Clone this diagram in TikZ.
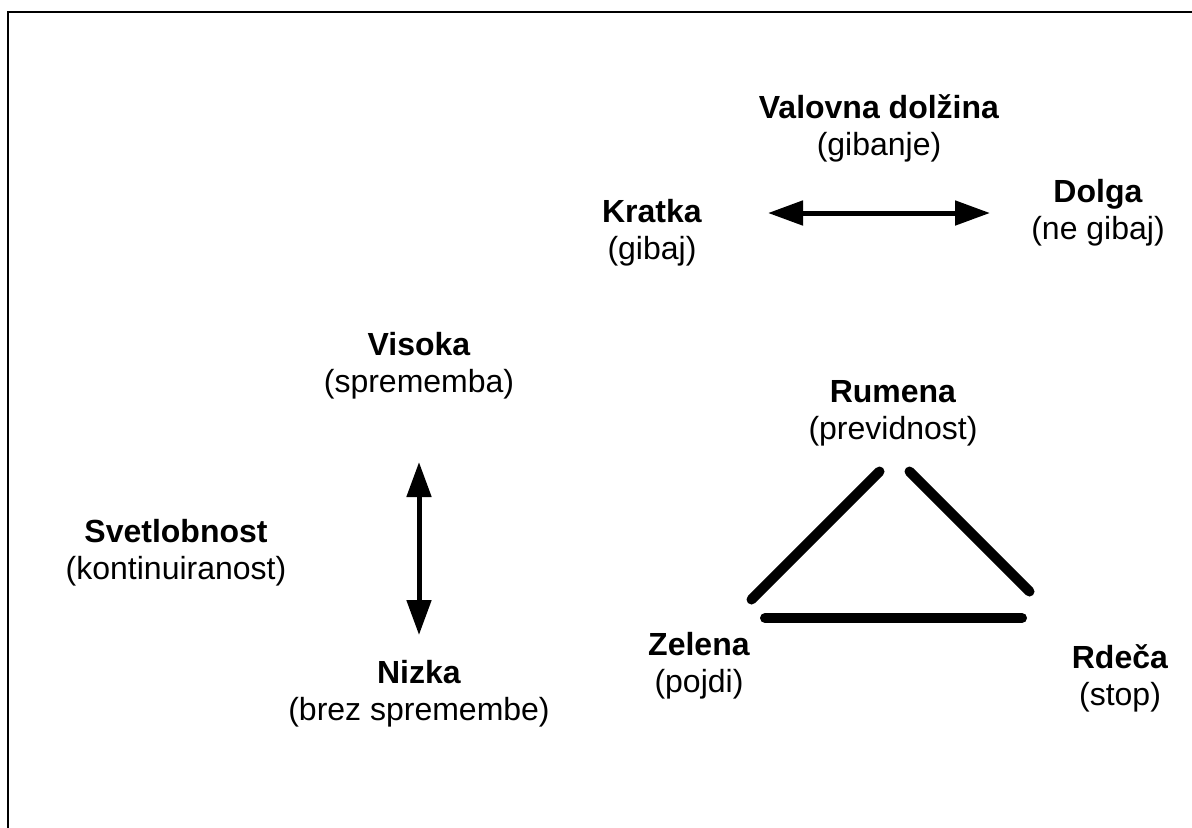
\documentclass[tikz,border=0pt]{standalone}
\usepackage{fontspec}
\setmainfont{Liberation Sans}
\usetikzlibrary{arrows.meta}
\begin{document}
\begin{tikzpicture}[x=0.5pt,y=-0.5pt,
  lbl/.style={align=center,inner sep=0pt,font=\fontsize{16}{18.5}\selectfont},
  dblarrow/.style={line width=2.5pt,{Triangle[length=17.5pt,width=12pt]}-{Triangle[length=17.5pt,width=12pt]}},
  bar/.style={line width=5pt,line cap=round},
  frame/.style={line width=1pt}]
\useasboundingbox (0,0) rectangle (1192,827);
\clip (0,0) rectangle (1192,827);
\draw[frame] (8,12) rectangle (1210,850);

\node[lbl] (val) at (879,128) {\textbf{Valovna dolžina}\\(gibanje)};
\node[lbl] (kra) at (652,233) {\textbf{Kratka}\\(gibaj)};
\node[lbl] (dol) at (1098,213) {\textbf{Dolga}\\(ne gibaj)};
\node[lbl] (vis) at (419,366) {\textbf{Visoka}\\(sprememba)};
\node[lbl] (sve) at (176,553) {\textbf{Svetlobnost}\\(kontinuiranost)};
\node[lbl] (niz) at (419,694) {\textbf{Nizka}\\(brez spremembe)};
\node[lbl] (rum) at (893,413) {\textbf{Rumena}\\(previdnost)};
\node[lbl] (zel) at (699,666) {\textbf{Zelena}\\(pojdi)};
\node[lbl] (rde) at (1120,678) {\textbf{Rdeča}\\(stop)};

\coordinate (hL) at (768,213);
\coordinate (hR) at (990,213);
\coordinate (vT) at (419,462);
\coordinate (vB) at (419,635);
\draw[dblarrow] (hL) -- (hR);
\draw[dblarrow] (vT) -- (vB);

\coordinate (t1a) at (751.5,599.5);
\coordinate (t1b) at (879.5,471.5);
\coordinate (t2a) at (909.5,471.5);
\coordinate (t2b) at (1029.5,591.5);
\coordinate (t3a) at (765,618);
\coordinate (t3b) at (1022,618);
\draw[bar] (t1a) -- (t1b);
\draw[bar] (t2a) -- (t2b);
\draw[bar] (t3a) -- (t3b);
\end{tikzpicture}
\end{document}
